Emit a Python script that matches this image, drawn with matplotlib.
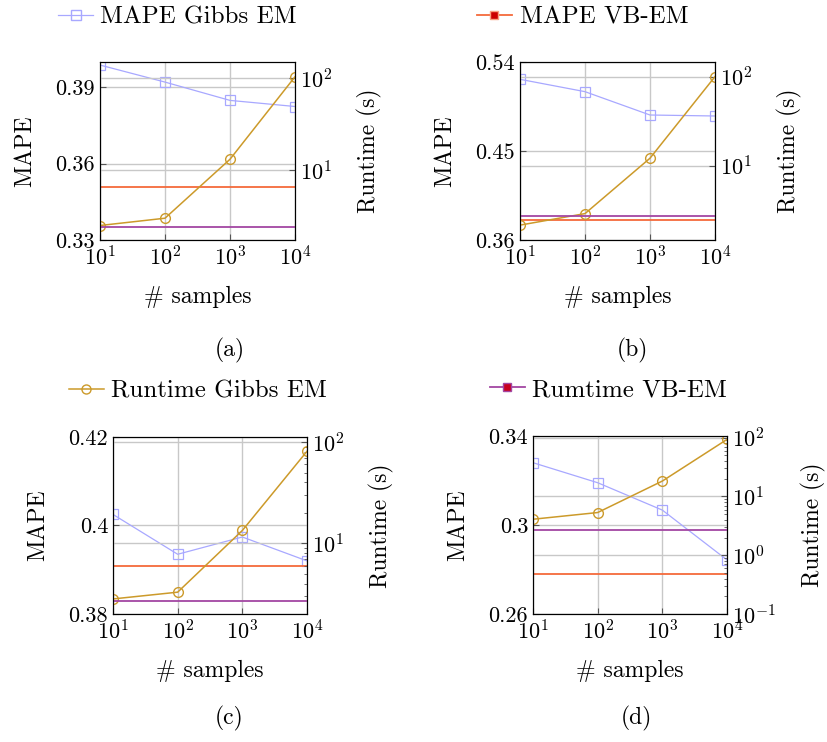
import matplotlib
matplotlib.use('Agg')
import matplotlib.pyplot as plt
from matplotlib.lines import Line2D
from matplotlib.ticker import FixedLocator, FormatStrFormatter, LogLocator, NullLocator, NullFormatter

plt.rcParams['font.family'] = ['cmr10', 'DejaVu Serif']
plt.rcParams['mathtext.fontset'] = 'cm'
plt.rcParams['axes.formatter.use_mathtext'] = True

# data
samples = [10, 100, 1000, 10000]

mape_gibbs_a = [0.3988, 0.3921, 0.3849, 0.3825]
mape_vb_a = 0.3508
rt_gibbs_a = [2.5, 3.0, 13.1, 103]
rt_vb_a = 2.42

mape_gibbs_b = [0.5225, 0.510, 0.4864, 0.4854]
mape_vb_b = 0.3799
rt_gibbs_b = [2.16, 2.91, 12.2, 100.7]
rt_vb_b = 2.77

mape_gibbs_c = [0.4025, 0.3935, 0.3974, 0.392]
mape_vb_c = 0.3909
rt_gibbs_c = [2.83, 3.30, 13.4, 81]
rt_vb_c = 2.71

mape_gibbs_d = [0.328, 0.319, 0.3067, 0.2843]
mape_vb_d = 0.2781
rt_gibbs_d = [4.1, 5.33, 18.3, 93.6]
rt_vb_d = 2.73

mape_ticks = {'a': [0.33, 0.36, 0.39], 'b': [0.36, 0.45, 0.54],
              'c': [0.38, 0.40, 0.42], 'd': [0.26, 0.30, 0.34]}
mape_lims = {'a': (0.33, 0.40), 'b': (0.36, 0.54), 'c': (0.38, 0.42), 'd': (0.26, 0.34)}
rt_lims = {'a': (1.74, 149), 'b': (1.47, 147), 'c': (2.01, 112), 'd': (0.1, 107)}
rt_ticks = {'a': [10, 100], 'b': [10, 100], 'c': [10, 100], 'd': [0.1, 1, 10, 100]}

c_mg = '#a8a8ff'
c_mv = '#f46a3c'
c_rg = '#cc9a2a'
c_rv = '#a347a3'
grid_c = '#c8c8c8'

W, H = 828, 742
fig = plt.figure(figsize=(W / 100, H / 100), dpi=100)

def box(l, t, r, b):
    return [l / W, 1 - b / H, (r - l) / W, (b - t) / H]

panels = {
    'a': (box(100, 62, 295, 240), mape_gibbs_a, mape_vb_a, rt_gibbs_a, rt_vb_a, (230, 350)),
    'b': (box(520, 62, 715, 240), mape_gibbs_b, mape_vb_b, rt_gibbs_b, rt_vb_b, (632, 350)),
    'c': (box(113, 437, 307, 614), mape_gibbs_c, mape_vb_c, rt_gibbs_c, rt_vb_c, (229, 718)),
    'd': (box(533, 436, 727, 614), mape_gibbs_d, mape_vb_d, rt_gibbs_d, rt_vb_d, (636, 718)),
}

fs = 16
for key, (pos, mg, mv, rg, rv, cap) in panels.items():
    ax = fig.add_axes(pos)
    ax.set_xscale('log')
    ax.set_xlim(10, 1e4)
    ax.set_ylim(*mape_lims[key])
    ax.yaxis.set_major_locator(FixedLocator(mape_ticks[key]))
    ax.yaxis.set_major_formatter(FormatStrFormatter('%g'))
    ax.xaxis.set_major_locator(FixedLocator(samples))
    ax.xaxis.set_minor_locator(NullLocator())
    ax.grid(True, color=grid_c, lw=1)
    ax.set_axisbelow(True)
    ax.tick_params(direction='in', labelsize=fs, length=4, color='#555555')
    ax.plot(samples, mg, color=c_mg, lw=0.9, marker='s', ms=6.5, mfc='none', mec=c_mg, mew=0.9)
    ax.plot(samples, [mv] * len(samples), color=c_mv, lw=1.3)
    ax.set_ylabel('MAPE', fontsize=17, labelpad=14)
    ax.set_xlabel('# samples', fontsize=17, labelpad=12)

    ax2 = ax.twinx()
    ax2.set_yscale('log')
    ax2.set_ylim(*rt_lims[key])
    ax2.yaxis.set_major_locator(FixedLocator(rt_ticks[key]))
    if key in ('c', 'd'):
        ax2.yaxis.set_minor_locator(LogLocator(base=10, subs=range(2, 10)))
    else:
        ax2.yaxis.set_minor_locator(NullLocator())
    ax2.yaxis.set_minor_formatter(NullFormatter())
    ax2.grid(True, which='major', color=grid_c, lw=1)
    ax2.tick_params(which='both', direction='in', labelsize=fs, length=4, color='#555555')
    ax2.tick_params(which='minor', length=2.5)
    ax2.plot(samples, rg, color=c_rg, lw=1.1, marker='o', ms=7, mfc='none', mec=c_rg, mew=1.0)
    ax2.plot(samples, [rv] * len(samples), color=c_rv, lw=1.3)
    ax2.set_ylabel('Runtime (s)', fontsize=17, labelpad=18)

    fig.text(cap[0] / W, 1 - cap[1] / H, '(%s)' % key, fontsize=17, ha='center', va='center')

h_mg = Line2D([], [], color=c_mg, lw=0.9, marker='s', ms=6.5, mfc='none', mec=c_mg)
h_mv = Line2D([], [], color=c_mv, lw=1.3, marker='s', ms=6, mfc='#cc0000', mec='#f9a080')
h_rg = Line2D([], [], color=c_rg, lw=1.1, marker='o', ms=6.5, mfc='none', mec=c_rg)
h_rv = Line2D([], [], color=c_rv, lw=1.3, marker='s', ms=6, mfc='#c8001e', mec=c_rv)

leg_kw = dict(frameon=False, fontsize=18, handlelength=1.4, handletextpad=0.3,
              loc='center left', borderpad=0, borderaxespad=0)
fig.legend([h_mg], ['MAPE Gibbs EM'], bbox_to_anchor=(58 / W, 1 - 17 / H), **leg_kw)
fig.legend([h_mv], ['MAPE VB-EM'], bbox_to_anchor=(477 / W, 1 - 17 / H), **leg_kw)
fig.legend([h_rg], ['Runtime Gibbs EM'], bbox_to_anchor=(69 / W, 1 - 391 / H), **leg_kw)
fig.legend([h_rv], ['Rumtime VB-EM'], bbox_to_anchor=(490 / W, 1 - 390 / H), **leg_kw)

fig.savefig('out.png', dpi=100)
